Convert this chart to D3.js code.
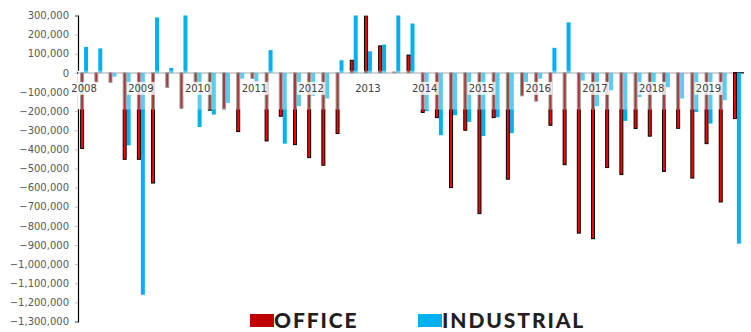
<!DOCTYPE html>
<html>
<head>
<meta charset="utf-8">
<script src="https://cdn.jsdelivr.net/npm/d3@7"></script>
<style>
  body { margin: 0; background: #fff; }
  svg { display: block; }
  .axis text { font-family: "DejaVu Sans", Verdana, sans-serif; font-size: 10px; fill: #595959; }
  .legend text { font-family: Lato, "Open Sans", sans-serif; font-weight: 900; font-size: 21px; letter-spacing: 1.9px; fill: #231f20; }
</style>
</head>
<body>
<svg id="chart" width="751" height="332"></svg>
<script>
'use strict';

// quarterly net absorption, 2008 Q1 .. 2019 Q3
const quarters = [
  "2008Q1","2008Q2","2008Q3","2008Q4",
  "2009Q1","2009Q2","2009Q3","2009Q4",
  "2010Q1","2010Q2","2010Q3","2010Q4",
  "2011Q1","2011Q2","2011Q3","2011Q4",
  "2012Q1","2012Q2","2012Q3","2012Q4",
  "2013Q1","2013Q2","2013Q3","2013Q4",
  "2014Q1","2014Q2","2014Q3","2014Q4",
  "2015Q1","2015Q2","2015Q3","2015Q4",
  "2016Q1","2016Q2","2016Q3","2016Q4",
  "2017Q1","2017Q2","2017Q3","2017Q4",
  "2018Q1","2018Q2","2018Q3","2018Q4",
  "2019Q1","2019Q2","2019Q3"
];
const yearLabels = ["2008","2009","2010","2011","2012","2013","2014","2015","2016","2017","2018","2019"];

const office = [
  -395000, -52000, -50000, -452000,
  -452000, -576000, -76000, -186000,
  -55000, -195000, -188000, -307000,
  -29000, -356000, -227000, -375000,
  -443000, -483000, -317000, 66000,
  298000, 141000, 5000, 93000,
  -207000, -234000, -600000, -300000,
  -736000, -234000, -556000, -120000,
  -148000, -274000, -480000, -838000,
  -867000, -495000, -532000, -291000,
  -331000, -515000, -290000, -550000,
  -370000, -675000, -239000
];
const industrial = [
  136000, 128000, -20000, -379000,
  -1160000, 290000, 26000, 340000,
  -283000, -218000, -157000, -30000,
  -45000, 119000, -370000, -174000,
  -120000, -134000, 66000, 330000,
  113000, 148000, 320000, 258000,
  -200000, -326000, -221000, -256000,
  -330000, -232000, -315000, -50000,
  -30000, 131000, 264000, -40000,
  -174000, -91000, -251000, -127000,
  -74000, -75000, -134000, -204000,
  -265000, -143000, -893000
];
const yTicks = [300000,200000,100000,0,-100000,-200000,-300000,-400000,-500000,-600000,-700000,-800000,-900000,-1000000,-1100000,-1200000,-1300000];

const svg = d3.select("#chart");
const plotLeft = 77, plotRight = 744, plotTop = 15.5, plotBottom = 321.5;

const x = d3.scaleBand().domain(quarters).range([plotLeft, plotRight])
  .paddingInner(0.44).paddingOuter(0.22);
const xs = d3.scaleBand().domain(["office", "industrial"]).range([0, x.bandwidth()]);
const y = d3.scaleLinear().domain([-1300000, 300000]).range([plotBottom, plotTop]);

const rows = quarters.map((q, i) => ({ q: q, office: office[i], industrial: industrial[i] }));

svg.append("clipPath").attr("id", "plotClip")
  .append("rect").attr("x", plotLeft).attr("y", plotTop).attr("width", plotRight - plotLeft).attr("height", plotBottom - plotTop);

// the label strip under the zero line washes out what is behind it
const stripTop = y(0) - 2, stripBottom = y(-190000);
const stripRight = x(quarters[46]);
svg.append("clipPath").attr("id", "stripClip")
  .append("rect").attr("x", plotLeft).attr("y", stripTop).attr("width", stripRight - plotLeft).attr("height", stripBottom - stripTop);

// y axis
const yAxis = svg.append("g").attr("class", "axis")
  .attr("transform", "translate(" + (plotLeft + 1) + ",0)")
  .call(d3.axisLeft(y).tickValues(yTicks).tickFormat(d3.format(",")).tickSize(3).tickPadding(6));
yAxis.select(".domain").attr("stroke", "#000").attr("stroke-width", 1.2);
yAxis.selectAll(".tick line").attr("stroke", "#bfbfbf");

// zero line
svg.append("line")
  .attr("x1", plotLeft).attr("x2", plotRight)
  .attr("y1", y(0)).attr("y2", y(0))
  .attr("stroke", "#000").attr("stroke-width", 1.2);

function drawBars(g, officeFill, officeStroke, indFill) {
  g.selectAll("rect.ind").data(rows).enter().append("rect")
    .attr("class", "ind")
    .attr("x", d => x(d.q) + xs("industrial"))
    .attr("width", xs.bandwidth())
    .attr("y", d => y(Math.max(0, d.industrial)))
    .attr("height", d => Math.abs(y(d.industrial) - y(0)))
    .attr("fill", indFill);
  g.selectAll("rect.off").data(rows).enter().append("rect")
    .attr("class", "off")
    .attr("x", d => x(d.q) + xs("office") + 0.5)
    .attr("width", xs.bandwidth() - 1)
    .attr("y", d => y(Math.max(0, d.office)))
    .attr("height", d => Math.abs(y(d.office) - y(0)))
    .attr("fill", officeFill)
    .attr("stroke", officeStroke)
    .attr("stroke-width", 1);
}

drawBars(svg.append("g").attr("clip-path", "url(#plotClip)"), "#ff0000", "#000", "#00b0f0");

// washed strip
svg.append("rect")
  .attr("x", plotLeft + 1).attr("y", stripTop)
  .attr("width", stripRight - plotLeft - 1).attr("height", stripBottom - stripTop)
  .attr("fill", "#fff");
svg.append("line")
  .attr("x1", plotLeft + 1).attr("x2", stripRight)
  .attr("y1", y(0)).attr("y2", y(0))
  .attr("stroke", "#d4d4d4").attr("stroke-width", 2);
drawBars(svg.append("g").attr("clip-path", "url(#stripClip)").attr("opacity", 0.85), "#9e1616", "#8c8c8c", "#3cc3f2");

// year labels on the first quarter of each year
const yearG = svg.append("g").attr("class", "axis");
yearLabels.forEach(yr => {
  const cx = x(yr + "Q1") + x.bandwidth() / 2;
  yearG.append("rect")
    .attr("x", cx - 14).attr("y", y(0) + 9).attr("width", 28).attr("height", 13)
    .attr("fill", "#fff").attr("opacity", 0.8);
  yearG.append("text")
    .attr("x", cx).attr("y", y(0) + 19.5)
    .attr("text-anchor", "middle")
    .style("fill", "#404040")
    .text(yr);
});

// legend
const legend = svg.append("g").attr("class", "legend");
const items = [
  { name: "OFFICE", color: "#c00000", x: 250 },
  { name: "INDUSTRIAL", color: "#00b0f0", x: 418 }
];
items.forEach(it => {
  legend.append("rect").attr("x", it.x).attr("y", 314).attr("width", 24).attr("height", 13).attr("fill", it.color);
  legend.append("text").attr("x", it.x + 24).attr("y", 328).text(it.name);
});
</script>
</body>
</html>
